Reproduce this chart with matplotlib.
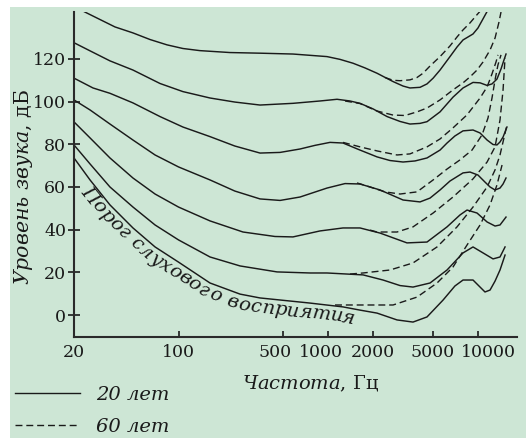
import numpy as np
import matplotlib
matplotlib.use('Agg')
import matplotlib.pyplot as plt
import matplotlib.transforms as mtransforms
from matplotlib.patches import Rectangle
from matplotlib.lines import Line2D
from matplotlib.ft2font import FT2Font
from matplotlib.font_manager import FontProperties, findfont

plt.rcParams['font.family'] = 'DejaVu Serif'
plt.rcParams['mathtext.fontset'] = 'dejavuserif'

# ---- data (frequency in Hz, level in dB) ----
f_120 = [21.9, 24.1, 29.8, 37.6, 49.6, 64.5, 83.8, 107, 139, 221, 351, 583, 985, 1203, 1469, 1767,
         2128, 2723, 3176, 3533, 4125, 4594, 5049, 5615, 6546, 7295, 8000, 8640, 9330, 10070, 10890, 11750]
L_120 = [143.2, 141.7, 138.5, 135.0, 132.2, 129.1, 126.6, 124.9, 123.9, 123.0, 122.7, 122.3, 121.1, 119.8, 118.0, 115.8,
         113.3, 109.4, 107.3, 106.4, 106.7, 108.3, 111.0, 114.8, 121.1, 125.6, 128.9, 130.3, 131.7, 134.5, 138.8, 143.0]

f_100 = [20, 25.6, 34.8, 49.6, 75.2, 107, 162.5, 238, 351, 583, 884, 1149, 1403, 1637, 2000, 2483, 3034, 3533,
         4125, 4594, 5615, 6856, 8000, 9330, 10400, 11590, 12500, 13500, 14360, 15030, 15510]
L_100 = [127.6, 123.8, 119.1, 114.8, 108.5, 104.7, 101.7, 99.8, 98.4, 99.2, 100.3, 101.1, 100.3, 99.2, 96.6, 93.0, 90.7, 89.5,
         89.8, 90.6, 95.2, 102.1, 106.4, 109.0, 108.8, 107.6, 108.3, 110.6, 115.3, 119.5, 122.3]

f_80 = [20, 26.8, 34.8, 49.6, 75.2, 107, 162.5, 238, 351, 478, 650, 818, 1031, 1260, 1637, 2128, 2598, 3176,
        3820, 4594, 5615, 6253, 7060, 8000, 9330, 10400, 11590, 12700, 13500, 14140, 14820, 15740]
L_80 = [111.0, 106.4, 103.9, 99.4, 93.0, 88.1, 83.6, 79.2, 75.9, 76.2, 77.8, 79.5, 80.9, 80.6, 77.3, 74.1, 72.4, 71.7,
        72.2, 73.6, 77.3, 80.6, 83.9, 86.3, 86.7, 85.3, 82.0, 79.9, 79.7, 81.1, 83.4, 88.1]

f_60 = [20, 25.6, 34.8, 49.6, 69.7, 100, 162.5, 238, 351, 478, 650, 985, 1300, 1637, 2229, 3176, 4125, 4812,
        5615, 6546, 8000, 8912, 10070, 11220, 12130, 13100, 14140, 14820, 15510]
L_60 = [100.8, 96.1, 89.5, 82.0, 75.0, 69.4, 63.3, 58.1, 54.4, 53.7, 55.3, 59.5, 61.6, 61.4, 58.6, 53.9, 53.0, 54.8,
        58.6, 62.8, 66.6, 67.0, 65.6, 62.3, 60.0, 58.6, 59.5, 61.4, 64.2]

f_40 = [20, 25.6, 34.8, 49.6, 69.7, 100, 162.5, 270, 442, 583, 884, 1260, 1637, 2229, 3375, 4594, 6253, 7637,
        8510, 9925, 11590, 13100, 14140, 15510]
L_40 = [90.5, 83.0, 73.6, 64.2, 56.7, 50.6, 44.1, 38.9, 36.8, 36.6, 39.4, 40.8, 40.8, 38.4, 33.8, 34.2, 41.3, 46.9,
        49.2, 47.8, 43.6, 41.7, 42.2, 45.9]

f_20 = [20, 25.6, 34.8, 49.6, 69.7, 100, 162.5, 258, 456, 758, 985, 1716, 2334, 3034, 3703, 4812, 6253, 8000,
        9330, 10890, 12700, 14140, 15280]
L_20 = [79.7, 70.8, 60.0, 50.6, 42.2, 35.2, 27.2, 23.0, 20.2, 19.7, 19.7, 18.8, 16.4, 13.8, 13.1, 15.0, 21.1, 29.1,
        31.9, 29.1, 26.3, 27.2, 31.9]

f_thr = [20, 25.6, 34.8, 49.6, 69.7, 100, 162.5, 258, 351, 758, 1260, 1637, 2128, 2894, 3703, 4594, 5880, 7060,
         8000, 9330, 10400, 11220, 12130, 13100, 14140, 15280]
L_thr = [73.6, 63.3, 51.6, 40.8, 31.9, 24.8, 15.0, 9.8, 8.0, 5.6, 3.8, 2.3, 0.9, -2.3, -3.3, -0.9, 7.0, 13.6,
         16.4, 16.4, 13.1, 10.8, 11.7, 15.9, 21.1, 28.1]

# 60-year curves (only where they leave the 20-year ones)
g_120 = [2405, 2723, 3034, 3533, 3938, 4320, 4812, 5615, 6546, 7295, 8000, 8912, 9770, 10720]
M_120 = [111.3, 110.0, 109.8, 110.2, 111.3, 113.3, 116.7, 121.1, 126.1, 130.3, 133.6, 136.9, 140.2, 143.4]
g_100 = [1300, 1637, 2128, 2723, 3273, 3938, 4594, 5615, 6856, 8000, 8912, 9925, 10890, 12130, 13100, 13920, 14360]
M_100 = [100.3, 99.1, 95.6, 93.7, 93.5, 95.2, 97.0, 100.8, 105.5, 108.8, 111.6, 114.8, 118.6, 124.2, 129.8, 137.3, 142.0]
g_80 = [1260, 1637, 2128, 2894, 3533, 4594, 5615, 6856, 8510, 10400, 11590, 12500, 13300, 13700]
M_80 = [80.9, 78.8, 76.9, 75.0, 75.5, 78.8, 82.5, 87.7, 93.8, 101.7, 106.9, 113.0, 118.6, 121.9]
g_60 = [1563, 1911, 2405, 3034, 3938, 5049, 6253, 7637, 9190, 10720, 11750, 12500, 13100, 13700, 14360]
M_60 = [61.9, 60.0, 57.7, 56.7, 57.7, 63.3, 68.4, 72.7, 77.3, 84.4, 92.3, 101.7, 110.2, 117.2, 121.9]
g_40 = [1911, 2128, 2894, 3703, 5049, 6856, 9330, 11590, 13100, 14140, 14820, 15280]
M_40 = [39.8, 38.9, 38.9, 41.3, 47.8, 55.3, 63.8, 71.7, 78.8, 91.4, 105.5, 120.5]
g_20 = [1403, 1716, 2598, 3703, 5361, 7295, 9330, 11590, 13100, 14140, 15030, 15740]
M_20 = [19.2, 19.7, 21.1, 24.4, 31.9, 41.3, 50.6, 60.0, 68.0, 75.0, 83.0, 89.1]
g_thr = [1114, 1716, 2723, 3938, 5361, 6856, 8510, 10400, 12130, 13500, 14590]
M_thr = [4.7, 4.7, 4.7, 8.4, 15.0, 22.5, 32.8, 42.2, 51.6, 61.0, 70.3]

xticks = [20, 100, 500, 1000, 2000, 5000, 10000]
yticks = [0, 20, 40, 60, 80, 100, 120]
label_shift = {500: -8, 1000: -7, 10000: 11}   # px, labels are nudged in the original
threshold_text = 'Порог слухового восприятия'

ink = '#1a1a1a'
dash = (0, (5, 2.8))

fig = plt.figure(figsize=(5.26, 4.38), dpi=100)
fig.patch.set_facecolor('white')
fig.add_artist(Rectangle((10 / 526, 0), 1, 1 - 7 / 438, transform=fig.transFigure,
                         facecolor='#cde6d5', edgecolor='none', zorder=0))

ax = fig.add_axes([74 / 526, 101 / 438, 443 / 526, 325 / 438])
ax.set_facecolor('none')
ax.set_xscale('log')
ax.set_xlim(20, 18370)
ax.set_ylim(-10.3, 142)

for f, L in [(f_120, L_120), (f_100, L_100), (f_80, L_80), (f_60, L_60),
             (f_40, L_40), (f_20, L_20), (f_thr, L_thr)]:
    ax.plot(f, L, color=ink, lw=1.05, solid_joinstyle='round')
for g, M in [(g_120, M_120), (g_100, M_100), (g_80, M_80), (g_60, M_60),
             (g_40, M_40), (g_20, M_20), (g_thr, M_thr)]:
    ax.plot(g, M, color=ink, lw=1.0, ls=dash)

for s in ['top', 'right']:
    ax.spines[s].set_visible(False)
for s in ['left', 'bottom']:
    ax.spines[s].set_linewidth(1.5)
    ax.spines[s].set_color('#2a2a2a')

ax.set_xticks(xticks, [str(t) for t in xticks])
ax.xaxis.set_minor_locator(matplotlib.ticker.NullLocator())
ax.set_yticks(yticks, [str(t) for t in yticks])
ax.tick_params(axis='x', direction='in', length=4, width=1.2, pad=5, labelsize=12.5, colors=ink)
ax.tick_params(axis='y', direction='inout', length=8, width=1.2, pad=1.5, labelsize=12.5, colors=ink)

for t, lab in zip(xticks, ax.get_xticklabels()):
    if t in label_shift:
        lab.set_transform(lab.get_transform() +
                          mtransforms.ScaledTranslation(label_shift[t] / 100, 0, fig.dpi_scale_trans))

ax.set_xlabel(r'$\mathit{Частота}$, Гц', fontsize=14, color=ink)
ax.xaxis.set_label_coords(0.535, -0.114)
ax.set_ylabel(r'$\mathit{Уровень\ звука}$, дБ', fontsize=14.8, color=ink)
ax.yaxis.set_label_coords(-0.088, 0.4615)

h1 = Line2D([], [], color=ink, lw=1.0)
h2 = Line2D([], [], color=ink, lw=1.0, ls=dash)
fig.legend([h1, h2], ['20 лет', '60 лет'], loc='upper left', bbox_to_anchor=(15 / 526, 52 / 438),
           frameon=False, prop={'style': 'italic', 'size': 14}, handlelength=3.35, handletextpad=0.8,
           labelspacing=0.72, borderpad=0, borderaxespad=0, labelcolor=ink)

# text bent along the threshold curve
fp = FontProperties(family='DejaVu Serif', style='italic', size=14)
font = FT2Font(findfont(fp))
font.set_size(fp.get_size_in_points(), fig.dpi)
pts = ax.transData.transform(np.column_stack([f_thr, L_thr]))
arc = np.concatenate([[0], np.cumsum(np.hypot(np.diff(pts[:, 0]), np.diff(pts[:, 1])))])
pos = np.interp(92, pts[:, 0], arc)
offset = 15
for ch in threshold_text:
    adv = font.load_char(ord(ch)).linearHoriAdvance / 65536
    sc = pos + adv / 2
    x = np.interp(sc, arc, pts[:, 0])
    y = np.interp(sc, arc, pts[:, 1])
    x1, y1 = np.interp(sc - 8, arc, pts[:, 0]), np.interp(sc - 8, arc, pts[:, 1])
    x2, y2 = np.interp(sc + 8, arc, pts[:, 0]), np.interp(sc + 8, arc, pts[:, 1])
    ang = np.arctan2(y2 - y1, x2 - x1)
    ax.text(x + offset * np.sin(ang), y - offset * np.cos(ang), ch, fontproperties=fp,
            rotation=np.degrees(ang), rotation_mode='anchor', ha='center', va='baseline',
            color=ink, transform=mtransforms.IdentityTransform())
    pos += adv

fig.savefig('out.png', dpi=100)
plt.close()
